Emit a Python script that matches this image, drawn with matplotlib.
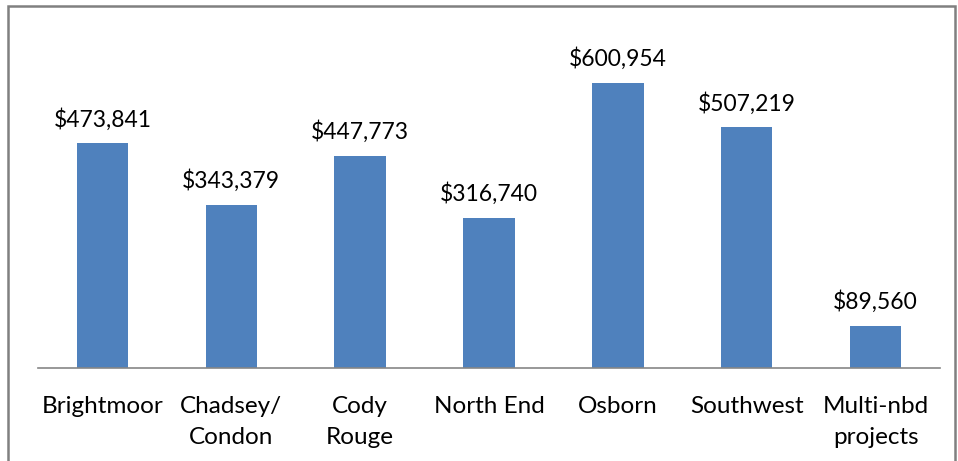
import matplotlib.pyplot as plt
from matplotlib.patches import Rectangle

# neighborhood totals
categories = ["Brightmoor", "Chadsey/\nCondon", "Cody\nRouge", "North End",
              "Osborn", "Southwest", "Multi-nbd\nprojects"]
amounts = [473841, 343379, 447773, 316740, 600954, 507219, 89560]

plt.rcParams['font.family'] = ['Lato', 'DejaVu Sans']

fig = plt.figure(figsize=(9.58, 4.61), dpi=100)
ax = fig.add_axes([38 / 958, 93 / 461, 902 / 958, 332 / 461])

x = range(len(categories))
ax.bar(x, amounts, width=0.4, color="#4F81BD", zorder=2)
for i, v in zip(x, amounts):
    ax.text(i, v + 27000, "${:,}".format(v), ha="center", va="bottom",
            fontsize=16.5, color="black")

ax.set_xlim(-0.5, len(categories) - 0.5)
ax.set_ylim(0, 700000)
ax.set_xticks(list(x))
ax.set_xticklabels(categories, fontsize=17.5, linespacing=1.6)
ax.tick_params(axis="x", length=0, pad=20)
ax.set_yticks([])
for s in ["top", "right", "left"]:
    ax.spines[s].set_visible(False)
ax.spines["bottom"].set_color("#868686")
ax.spines["bottom"].set_linewidth(1.2)

# chart border
fig.patches.append(Rectangle((8 / 958, -20 / 461), 947 / 958, 475 / 461,
                             transform=fig.transFigure, fill=False,
                             edgecolor="#808080", linewidth=1.8))

fig.savefig("out.png", dpi=100)
